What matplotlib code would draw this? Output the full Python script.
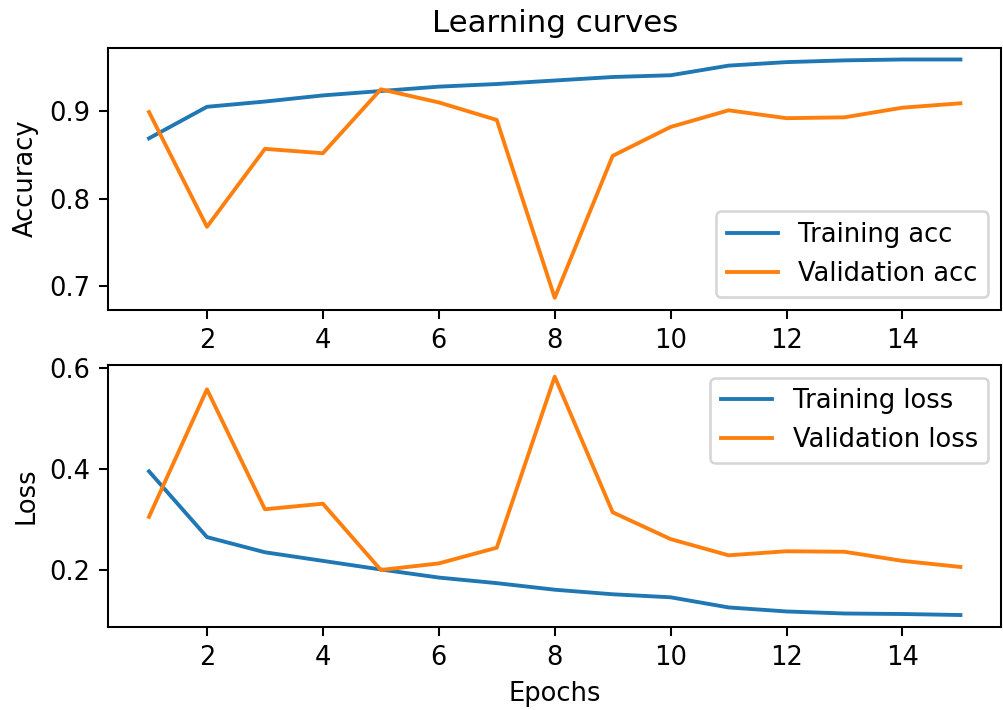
import matplotlib
matplotlib.use("Agg")
from matplotlib import pyplot as plt

# values
epochs = list(range(1, 16))
train_acc = [0.869, 0.905, 0.911, 0.918, 0.923, 0.928, 0.931, 0.935,
             0.939, 0.941, 0.952, 0.956, 0.958, 0.959, 0.959]
val_acc = [0.899, 0.768, 0.857, 0.852, 0.925, 0.910, 0.890, 0.687,
           0.849, 0.882, 0.901, 0.892, 0.893, 0.904, 0.909]
train_loss = [0.395, 0.265, 0.235, 0.218, 0.201, 0.185, 0.174, 0.161,
              0.152, 0.146, 0.126, 0.118, 0.114, 0.113, 0.111]
val_loss = [0.305, 0.557, 0.320, 0.331, 0.200, 0.213, 0.244, 0.582,
            0.314, 0.261, 0.229, 0.237, 0.236, 0.218, 0.206]

dpi = 185
fig, (ax1, ax2) = plt.subplots(2, 1, figsize=(1004 / dpi, 710 / dpi), dpi=dpi)
fig.subplots_adjust(left=0.108, right=0.997, top=0.933, bottom=0.117, hspace=0.21)

ax1.plot(epochs, train_acc, label="Training acc")
ax1.plot(epochs, val_acc, label="Validation acc")
ax1.set_title("Learning curves")
ax1.set_ylabel("Accuracy")
ax1.set_xticks([2, 4, 6, 8, 10, 12, 14])
ax1.set_yticks([0.7, 0.8, 0.9])
ax1.legend(loc="lower right")

ax2.plot(epochs, train_loss, label="Training loss")
ax2.plot(epochs, val_loss, label="Validation loss")
ax2.set_xlabel("Epochs")
ax2.set_ylabel("Loss")
ax2.set_xticks([2, 4, 6, 8, 10, 12, 14])
ax2.set_yticks([0.2, 0.4, 0.6])
ax2.legend(loc="upper right")

fig.savefig("out.png", dpi=dpi)
